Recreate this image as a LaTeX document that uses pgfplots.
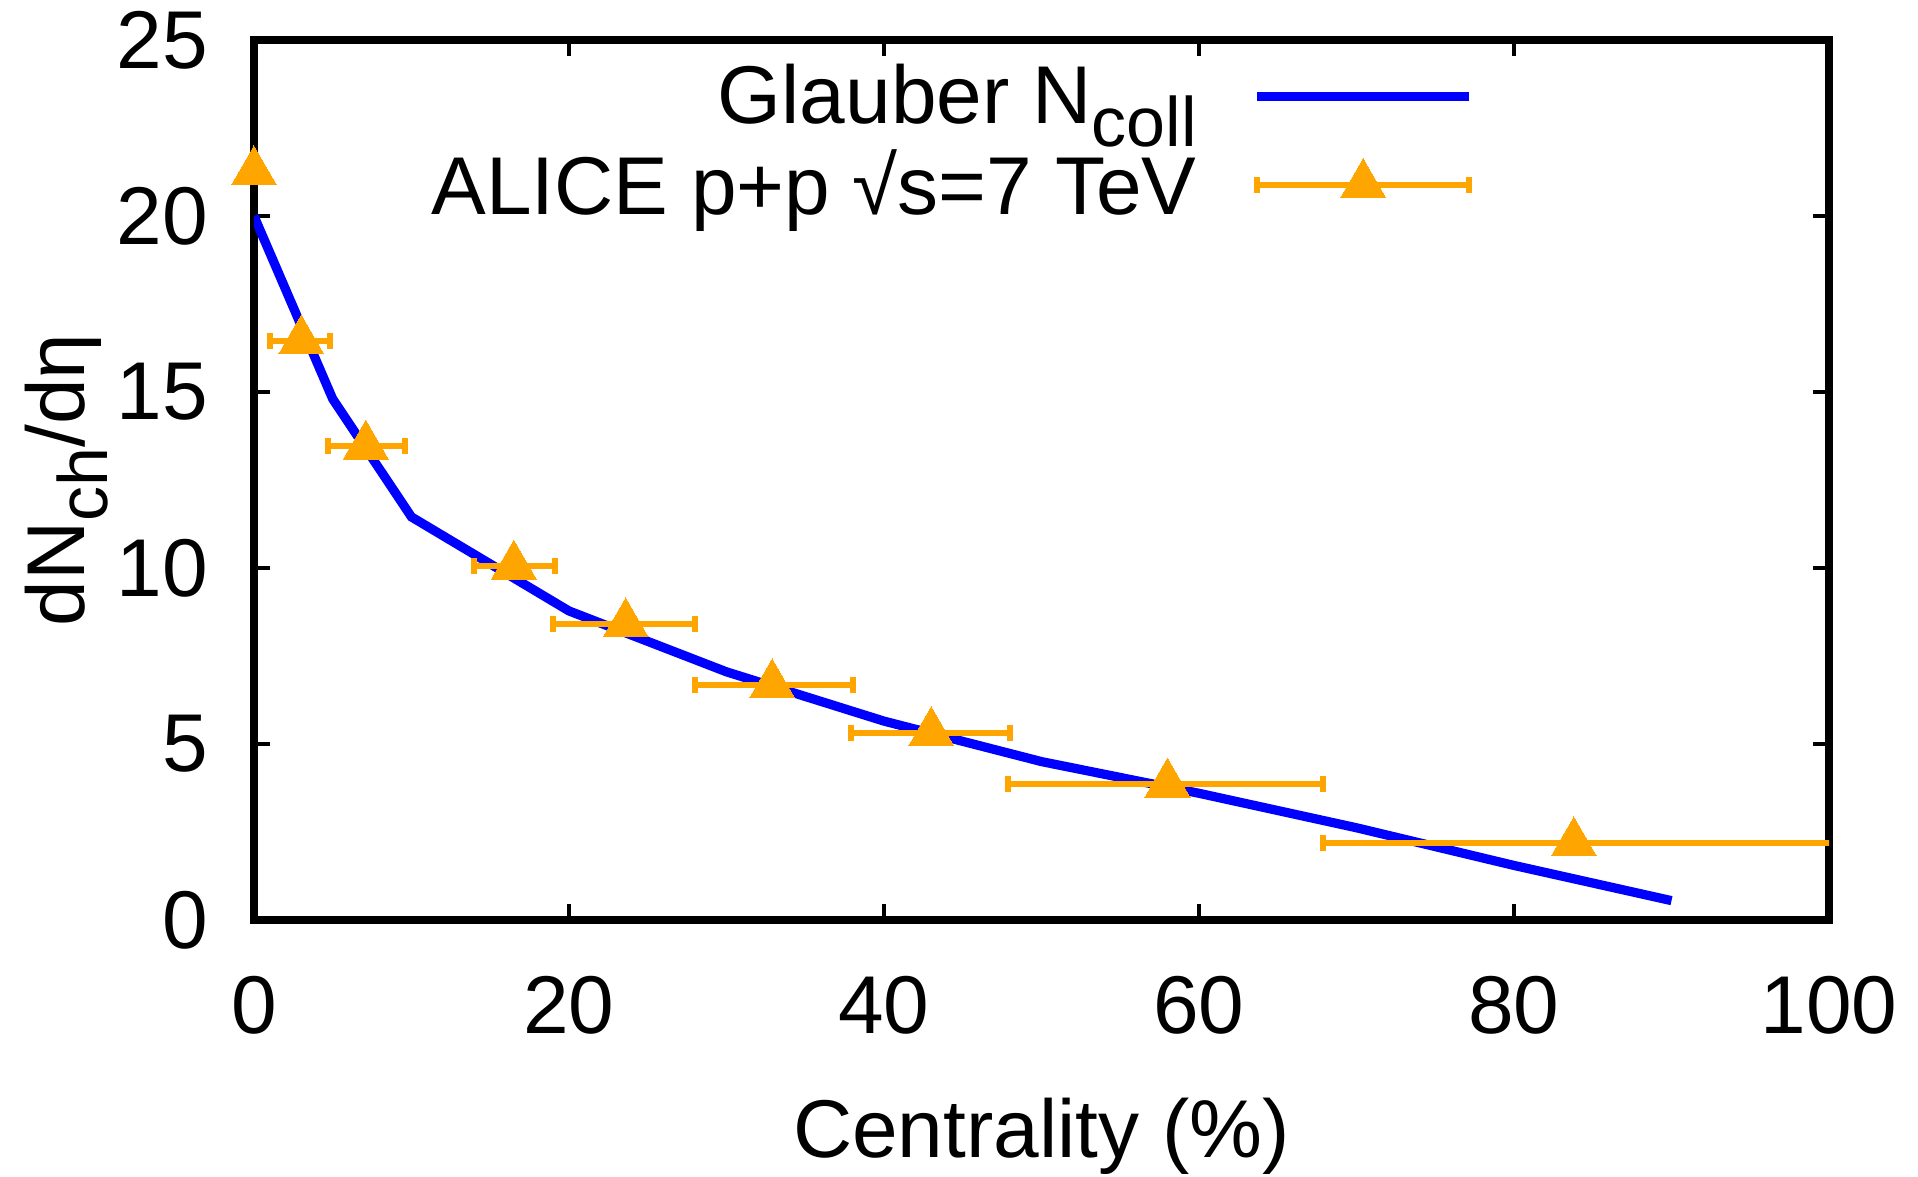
\documentclass[border=0pt]{standalone}
\usepackage{fontspec}
\setmainfont{Liberation Sans}
\usepackage{pgfplots}
\pgfplotsset{compat=1.18}

\definecolor{glblue}{HTML}{0000FF}
\definecolor{alorange}{HTML}{FFA500}

\pgfplotsset{
    glline legend/.style={legend image code/.code={\draw[#1] (0pt,0pt) -- (53pt,0pt);}},
    errbar legend/.style={legend image code/.code={%
        \draw[alorange, line width=1.5pt] (0pt,0pt) -- (53pt,0pt);
        \draw[alorange, line width=1.5pt] (0pt,-2pt) -- (0pt,2pt);
        \draw[alorange, line width=1.5pt] (53pt,-2pt) -- (53pt,2pt);
        \draw[alorange, fill=alorange, line width=0pt] plot[mark=triangle*, mark size=6.5pt] coordinates {(26.5pt,0pt)};}},
}

\pgfplotstableread{
x     y
0     20.0
5     14.8
10    11.45
20    8.78
30    7.05
40    5.65
50    4.5
60    3.6
70    2.62
80    1.55
90    0.55
}\glauber

\pgfplotstableread{
x     y      em    ep
0     21.25  0     0
3.0   16.45  2.0   1.8
7.1   13.46  2.4   2.5
16.5  10.05  2.5   2.6
23.6  8.41   4.6   4.4
32.9  6.68   4.9   5.1
43.0  5.32   5.1   5.0
58.0  3.86   10.1  9.9
83.8  2.19   15.9  16.5
}\alice

\newcommand{\fs}{\fontsize{20.5}{24}\selectfont}
% gnuplot-like subscript: a bit smaller, lowered further
\newcommand{\gsub}[1]{\raisebox{-0.28em}{\fontsize{17.5}{20}\selectfont #1}}

\begin{document}
\begin{tikzpicture}
\begin{axis}[
    scale only axis,
    width=393.75pt, height=220pt,
    xmin=0, xmax=100, ymin=0, ymax=25,
    xtick={0,20,...,100}, ytick={0,5,...,25},
    tick align=inside,
    major tick length=4pt,
    major tick style={line width=0.8pt, black},
    axis line style={line width=2.2pt},
    tick label style={font=\fs},
    /pgf/number format/assume math mode=true,
    xticklabel style={yshift=-10.5pt},
    yticklabel style={xshift=-8pt},
    xlabel={Centrality (\%)},
    ylabel={dN\gsub{ch}/dη},
    label style={font=\fs},
    xlabel style={yshift=-9pt},
    ylabel style={yshift=-4.8pt},
    legend plot pos=right,
    legend cell align=right,
    legend style={at={(0.775,0.983)}, anchor=north east, draw=none, fill=none,
        font=\fs, row sep=1pt, inner sep=0pt},
]
\addplot[glblue, line width=2.3pt, mark=none, glline legend]
    table[x=x, y=y] \glauber;
\addlegendentry{Glauber N\gsub{coll}\rule{12pt}{0pt}}

\addplot[alorange, line width=1.5pt, only marks,
    mark=triangle*, mark size=6.5pt, mark options={line width=0pt, fill=alorange},
    errbar legend,
    error bars/.cd, x dir=both, x explicit,
    error bar style={line width=1.5pt, alorange},
    error mark options={line width=1.5pt, alorange, mark size=2pt, rotate=90},
    ]
    table[x=x, y=y, x error plus=ep, x error minus=em] \alice;
\addlegendentry{ALICE p+p √s=7 TeV\rule{12pt}{0pt}}

\coordinate (bl) at (rel axis cs:0,0);
\coordinate (tr) at (rel axis cs:1,1);
\end{axis}
\pgfresetboundingbox
\path[use as bounding box] ([shift={(-63.5pt,-64.25pt)}]bl) rectangle ([shift={(22.25pt,10pt)}]tr);
\end{tikzpicture}
\end{document}
